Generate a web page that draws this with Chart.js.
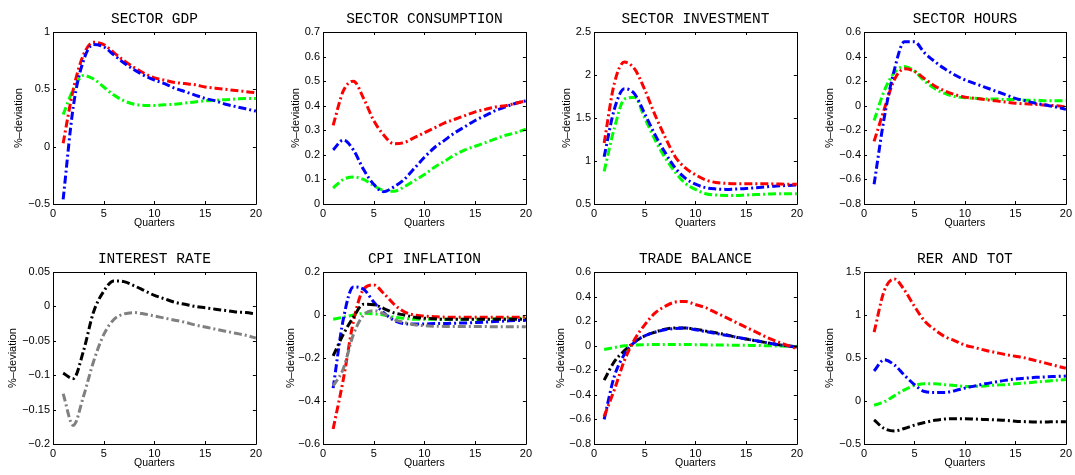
<!DOCTYPE html>
<html>
<head>
<meta charset="utf-8">
<script src="https://cdn.jsdelivr.net/npm/chart.js@4.4.0/dist/chart.umd.min.js"></script>
<style>
  body { margin: 0; background: #fff; }
  #page { position: relative; width: 1075px; height: 475px; background: #fff; overflow: hidden; }
  canvas { position: absolute; }
</style>
</head>
<body>
<div id="page"></div>
<script>
// Datos (trimestres 1..20)
const quarters = [1, 2, 3, 4, 5, 6, 7, 8, 9, 10, 11, 12, 13, 14, 15, 16, 17, 18, 19, 20];
const xTicks = [0, 5, 10, 15, 20];

const gdpRed = [0.03, 0.50, 0.80, 0.91, 0.89, 0.82, 0.75, 0.69, 0.64, 0.60, 0.58, 0.56, 0.55, 0.54, 0.52, 0.51, 0.50, 0.49, 0.48, 0.47];
const gdpBlue = [-0.46, 0.35, 0.75, 0.89, 0.87, 0.80, 0.73, 0.67, 0.62, 0.58, 0.55, 0.51, 0.48, 0.45, 0.42, 0.40, 0.37, 0.35, 0.33, 0.31];
const gdpGreen = [0.28, 0.50, 0.62, 0.59, 0.52, 0.45, 0.40, 0.37, 0.36, 0.36, 0.365, 0.37, 0.38, 0.39, 0.40, 0.405, 0.41, 0.415, 0.42, 0.42];

const consRed = [0.32, 0.46, 0.50, 0.43, 0.34, 0.28, 0.245, 0.25, 0.27, 0.29, 0.31, 0.33, 0.345, 0.36, 0.375, 0.385, 0.395, 0.40, 0.41, 0.42];
const consBlue = [0.22, 0.26, 0.22, 0.14, 0.08, 0.05, 0.07, 0.10, 0.145, 0.19, 0.23, 0.26, 0.29, 0.315, 0.34, 0.36, 0.38, 0.395, 0.41, 0.42];
const consGreen = [0.065, 0.10, 0.11, 0.10, 0.075, 0.055, 0.052, 0.07, 0.095, 0.12, 0.15, 0.175, 0.20, 0.22, 0.235, 0.25, 0.265, 0.28, 0.29, 0.305];

const invRed = [1.21, 1.90, 2.15, 2.07, 1.83, 1.54, 1.28, 1.05, 0.92, 0.84, 0.78, 0.75, 0.74, 0.735, 0.735, 0.735, 0.735, 0.733, 0.73, 0.73];
const invBlue = [1.05, 1.60, 1.84, 1.78, 1.55, 1.31, 1.10, 0.92, 0.80, 0.73, 0.69, 0.675, 0.67, 0.675, 0.68, 0.69, 0.70, 0.71, 0.715, 0.72];
const invGreen = [0.88, 1.38, 1.72, 1.74, 1.50, 1.25, 1.04, 0.87, 0.74, 0.67, 0.62, 0.605, 0.60, 0.60, 0.605, 0.61, 0.615, 0.62, 0.62, 0.62];

const hoursRed = [-0.29, -0.03, 0.21, 0.30, 0.28, 0.22, 0.16, 0.12, 0.09, 0.07, 0.06, 0.05, 0.04, 0.03, 0.02, 0.015, 0.01, 0.005, 0.0, -0.01];
const hoursBlue = [-0.64, -0.10, 0.29, 0.52, 0.52, 0.43, 0.36, 0.30, 0.25, 0.21, 0.18, 0.15, 0.12, 0.09, 0.06, 0.04, 0.02, 0.005, -0.01, -0.03];
const hoursGreen = [-0.12, 0.12, 0.27, 0.32, 0.28, 0.20, 0.14, 0.10, 0.075, 0.065, 0.06, 0.055, 0.055, 0.05, 0.05, 0.045, 0.045, 0.04, 0.04, 0.04];

const rateBlack = [-0.097, -0.105, -0.065, -0.008, 0.022, 0.037, 0.036, 0.030, 0.023, 0.016, 0.011, 0.006, 0.003, 0.0, -0.002, -0.004, -0.006, -0.008, -0.009, -0.011];
const rateGray = [-0.127, -0.173, -0.131, -0.080, -0.041, -0.019, -0.011, -0.009, -0.011, -0.014, -0.017, -0.020, -0.023, -0.027, -0.030, -0.033, -0.036, -0.039, -0.042, -0.046];

const cpiRed = [-0.53, -0.30, -0.03, 0.12, 0.14, 0.10, 0.05, 0.015, 0.0, -0.005, -0.008, -0.01, -0.01, -0.01, -0.01, -0.01, -0.01, -0.01, -0.01, -0.01];
const cpiBlue = [-0.34, -0.02, 0.13, 0.12, 0.06, 0.01, -0.025, -0.04, -0.042, -0.042, -0.04, -0.04, -0.038, -0.037, -0.035, -0.033, -0.03, -0.028, -0.026, -0.025];
const cpiBlack = [-0.19, -0.09, -0.01, 0.05, 0.048, 0.03, 0.01, 0.0, -0.01, -0.015, -0.018, -0.02, -0.02, -0.02, -0.02, -0.02, -0.02, -0.02, -0.02, -0.02];
const cpiGray = [-0.33, -0.25, -0.09, 0.0, 0.02, 0.005, -0.02, -0.035, -0.045, -0.05, -0.052, -0.053, -0.053, -0.054, -0.054, -0.054, -0.055, -0.055, -0.055, -0.055];
const cpiGreen = [-0.02, -0.01, 0.0, 0.008, 0.005, 0.0, -0.01, -0.015, -0.02, -0.02, -0.02, -0.02, -0.02, -0.02, -0.02, -0.02, -0.018, -0.017, -0.016, -0.015];

const tradeRed = [-0.575, -0.36, -0.12, 0.05, 0.17, 0.265, 0.32, 0.355, 0.36, 0.335, 0.31, 0.27, 0.23, 0.19, 0.15, 0.11, 0.07, 0.035, 0.005, -0.025];
const tradeBlue = [-0.60, -0.25, -0.07, 0.03, 0.08, 0.11, 0.13, 0.14, 0.145, 0.13, 0.115, 0.10, 0.085, 0.07, 0.055, 0.04, 0.025, 0.01, 0.0, -0.01];
const tradeBlack = [-0.28, -0.13, -0.04, 0.03, 0.08, 0.11, 0.135, 0.145, 0.145, 0.135, 0.12, 0.105, 0.09, 0.07, 0.055, 0.04, 0.025, 0.01, 0.0, -0.01];
const tradeGreen = [-0.03, -0.015, 0.0, 0.005, 0.008, 0.01, 0.01, 0.01, 0.01, 0.008, 0.007, 0.006, 0.005, 0.004, 0.003, 0.002, 0.0, -0.002, -0.004, -0.005];

const rerRed = [0.80, 1.28, 1.42, 1.29, 1.10, 0.93, 0.83, 0.75, 0.70, 0.65, 0.62, 0.59, 0.565, 0.54, 0.52, 0.50, 0.47, 0.44, 0.41, 0.38];
const rerBlue = [0.35, 0.48, 0.42, 0.30, 0.19, 0.11, 0.10, 0.10, 0.12, 0.15, 0.175, 0.20, 0.22, 0.24, 0.255, 0.265, 0.275, 0.28, 0.285, 0.29];
const rerGreen = [-0.05, -0.01, 0.06, 0.13, 0.18, 0.20, 0.20, 0.19, 0.18, 0.17, 0.17, 0.175, 0.185, 0.19, 0.20, 0.21, 0.22, 0.23, 0.24, 0.25];
const rerBlack = [-0.22, -0.32, -0.35, -0.32, -0.28, -0.25, -0.225, -0.21, -0.205, -0.205, -0.21, -0.215, -0.22, -0.225, -0.235, -0.24, -0.245, -0.245, -0.24, -0.24];

const RED = '#ff0000', BLUE = '#0000ff', GREEN = '#00ff00', BLACK = '#000000', GRAY = '#808080';

// Paneles: título, rango del eje y y series
const panels = [
  { title: 'SECTOR GDP', yMin: -0.5, yMax: 1, yStep: 0.5, series: [[gdpBlue, BLUE], [gdpRed, RED], [gdpGreen, GREEN]] },
  { title: 'SECTOR CONSUMPTION', yMin: 0, yMax: 0.7, yStep: 0.1, series: [[consRed, RED], [consBlue, BLUE], [consGreen, GREEN]] },
  { title: 'SECTOR INVESTMENT', yMin: 0.5, yMax: 2.5, yStep: 0.5, series: [[invRed, RED], [invBlue, BLUE], [invGreen, GREEN]] },
  { title: 'SECTOR HOURS', yMin: -0.8, yMax: 0.6, yStep: 0.2, series: [[hoursBlue, BLUE], [hoursRed, RED], [hoursGreen, GREEN]] },
  { title: 'INTEREST RATE', yMin: -0.2, yMax: 0.05, yStep: 0.05, series: [[rateBlack, BLACK], [rateGray, GRAY]] },
  { title: 'CPI INFLATION', yMin: -0.6, yMax: 0.2, yStep: 0.2, series: [[cpiGray, GRAY], [cpiBlack, BLACK], [cpiBlue, BLUE], [cpiRed, RED], [cpiGreen, GREEN]] },
  { title: 'TRADE BALANCE', yMin: -0.8, yMax: 0.6, yStep: 0.2, series: [[tradeRed, RED], [tradeBlue, BLUE], [tradeBlack, BLACK], [tradeGreen, GREEN]] },
  { title: 'RER AND TOT', yMin: -0.5, yMax: 1.5, yStep: 0.5, series: [[rerRed, RED], [rerBlue, BLUE], [rerGreen, GREEN], [rerBlack, BLACK]] }
];

// Posición del área de trazado de cada panel y separación del título del eje y
const plotLefts = [53, 323, 594, 864];
const plotWidths = [205, 205, 205, 204];
const plotTops = [32, 272];
const plotHeight = 172;
const yTitleGaps = [34, 27, 27, 34, 40, 32, 33, 34];

const AXIS_W = 50;   // ancho fijo del eje y
const AXIS_H = 24;   // alto fijo del eje x
const TITLE_H = 32;  // alto del bloque de título
const PAD_R = 8;

function fmtTick(v) {
  const s = String(parseFloat(Number(v).toFixed(4)));
  return s.replace('-', '\u2212');
}

// Caja completa y marcas hacia adentro, estilo MATLAB
const boxPlugin = {
  id: 'matlabBox',
  afterDraw(chart) {
    const { ctx, chartArea: a, scales } = chart;
    const t = 3;
    ctx.save();
    ctx.strokeStyle = '#000';
    ctx.lineWidth = 1;
    ctx.beginPath();
    ctx.rect(Math.round(a.left) + 0.5, Math.round(a.top) + 0.5, Math.round(a.right - a.left), Math.round(a.bottom - a.top));
    scales.x.ticks.forEach(tk => {
      const px = Math.round(scales.x.getPixelForValue(tk.value)) + 0.5;
      ctx.moveTo(px, a.bottom); ctx.lineTo(px, a.bottom - t);
      ctx.moveTo(px, a.top); ctx.lineTo(px, a.top + t);
    });
    scales.y.ticks.forEach(tk => {
      const py = Math.round(scales.y.getPixelForValue(tk.value)) + 0.5;
      ctx.moveTo(a.left, py); ctx.lineTo(a.left + t, py);
      ctx.moveTo(a.right, py); ctx.lineTo(a.right - t, py);
    });
    ctx.stroke();
    ctx.restore();
  }
};

function crearPanel(p, idx) {
  const col = idx % 4, row = Math.floor(idx / 4);
  const canvas = document.createElement('canvas');
  const w = AXIS_W + plotWidths[col] + PAD_R;
  const h = TITLE_H + plotHeight + AXIS_H;
  canvas.width = w;
  canvas.height = h;
  canvas.style.left = (plotLefts[col] - AXIS_W) + 'px';
  canvas.style.top = (plotTops[row] - TITLE_H) + 'px';
  canvas.style.width = w + 'px';
  canvas.style.height = h + 'px';
  document.getElementById('page').appendChild(canvas);

  const yTitleLH = 11;
  const yTitlePadTop = AXIS_W - yTitleGaps[idx] - yTitleLH / 2;

  new Chart(canvas.getContext('2d'), {
    type: 'line',
    data: {
      datasets: p.series.map(([vals, color]) => ({
        data: quarters.map((q, i) => ({ x: q, y: vals[i] })),
        borderColor: color,
        backgroundColor: color,
        borderWidth: 3,
        borderDash: [8, 3, 2, 3],
        pointRadius: 0,
        fill: false,
        cubicInterpolationMode: 'monotone'
      }))
    },
    options: {
      responsive: false,
      animation: false,
      layout: { padding: { left: 0, right: PAD_R, top: 0, bottom: 0 } },
      plugins: {
        legend: { display: false },
        tooltip: { enabled: false },
        title: {
          display: true,
          fullSize: false,   // centrado sobre el área de trazado
          text: p.title,
          color: '#000',
          font: { family: 'Liberation Mono', size: 14.5, weight: 'normal', lineHeight: 1.2 },
          padding: { top: 10.3, bottom: 4.3 }
        }
      },
      scales: {
        x: {
          type: 'linear',
          min: 0,
          max: 20,
          afterBuildTicks: s => { s.ticks = xTicks.map(v => ({ value: v })); },
          afterFit: s => { s.height = AXIS_H; },
          grid: { display: false, drawTicks: false },
          border: { display: false },
          ticks: {
            color: '#000',
            padding: 4,
            maxRotation: 0,
            font: { family: 'Liberation Sans', size: 11, lineHeight: 1 },
            callback: v => fmtTick(v)
          },
          title: {
            display: true,
            text: 'Quarters',
            color: '#000',
            font: { family: 'Liberation Sans', size: 10.5, lineHeight: 1 },
            padding: { top: 0, bottom: 0 }
          }
        },
        y: {
          min: p.yMin,
          max: p.yMax,
          afterFit: s => { s.width = AXIS_W; },
          grid: { display: false, drawTicks: false },
          border: { display: false },
          ticks: {
            color: '#000',
            padding: 3,
            stepSize: p.yStep,
            font: { family: 'Liberation Sans', size: 11 },
            callback: v => fmtTick(v)
          },
          title: {
            display: true,
            text: '%\u2013deviation',
            color: '#000',
            font: { family: 'Liberation Sans', size: 11, lineHeight: 1 },
            padding: { top: yTitlePadTop, bottom: 0 }
          }
        }
      }
    },
    plugins: [boxPlugin]
  });
}

panels.forEach((p, i) => crearPanel(p, i));
</script>
</body>
</html>
